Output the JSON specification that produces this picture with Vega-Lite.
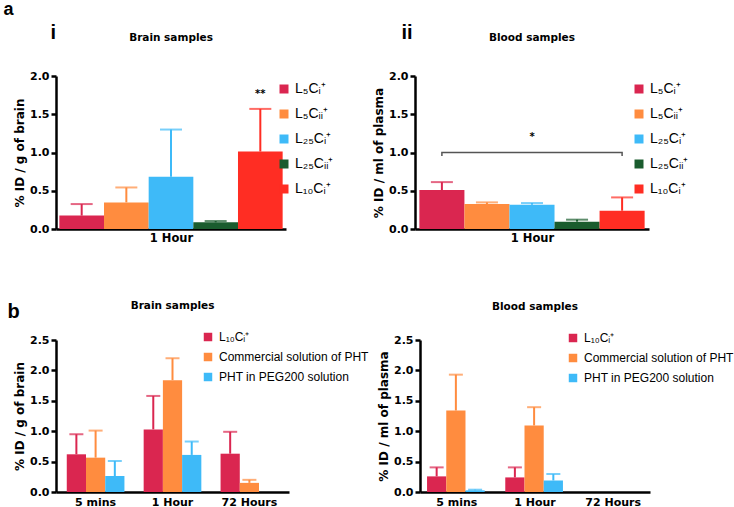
{
  "$schema": "https://vega.github.io/schema/vega-lite/v6.json",
  "background": "white",
  "padding": {"left": 3, "top": 0, "right": 0, "bottom": 0},
  "config": {
    "view": {"stroke": null},
    "font": "Liberation Sans",
    "axis": {"domainColor": "black", "domainWidth": 2.5, "tickColor": "black", "tickWidth": 2.5, "tickSize": 5, "labelFont": "DejaVu Sans", "labelFontWeight": "bold", "labelFontSize": 11, "labelColor": "black", "labelPadding": 2, "titleFont": "DejaVu Sans", "titleFontWeight": "bold", "titleFontSize": 12, "titleColor": "black", "titlePadding": 3, "grid": false},
    "title": {"font": "DejaVu Sans", "fontSize": 10.5, "fontWeight": "bold", "color": "black", "baseline": "alphabetic"},
    "legend": {"orient": "none", "labelFont": "Liberation Sans", "labelColor": "black", "symbolType": "square", "symbolStrokeWidth": 0, "symbolOpacity": 1, "padding": 0}
  },
  "resolve": {"scale": {"color": "independent"}, "legend": {"color": "independent"}},
  "spacing": 56,
  "vconcat": [
    {
      "title": {"text": "a", "anchor": "start", "font": "Liberation Sans", "fontSize": 18, "fontWeight": "bold", "offset": 4, "dx": -10},
      "spacing": 38,
      "resolve": {"scale": {"color": "independent"}, "legend": {"color": "independent"}},
      "hconcat": [
        {
          "title": {"text": "i", "anchor": "start", "font": "Liberation Sans", "fontSize": 20, "fontWeight": "bold", "offset": 0, "dx": 37, "dy": 10},
          "resolve": {"scale": {"color": "independent"}, "legend": {"color": "independent"}},
          "hconcat": [
            {
              "width": 230,
              "height": 153,
              "title": {"text": "Brain samples", "offset": 27},
              "data": {"values": [
                {"series": "L₅Cᵢ⁺", "mean": 0.175, "upper": 0.326},
                {"series": "L₅Cᵢᵢ⁺", "mean": 0.348, "upper": 0.543},
                {"series": "L₂₅Cᵢ⁺", "mean": 0.683, "upper": 1.3},
                {"series": "L₂₅Cᵢᵢ⁺", "mean": 0.087, "upper": 0.104},
                {"series": "L₁₀Cᵢ⁺", "mean": 1.013, "upper": 1.57}
              ]},
              "encoding": {
                "x": {"field": "series", "type": "nominal", "sort": ["L₅Cᵢ⁺", "L₅Cᵢᵢ⁺", "L₂₅Cᵢ⁺", "L₂₅Cᵢᵢ⁺", "L₁₀Cᵢ⁺"], "scale": {"paddingInner": 0, "paddingOuter": 0.075}, "axis": {"labels": false, "ticks": false, "title": "1 Hour", "titleFontSize": 11.5, "titlePadding": 3}}
              },
              "layer": [
                {
                  "mark": {"type": "bar"},
                  "encoding": {
                    "y": {"field": "mean", "type": "quantitative", "stack": null, "scale": {"domain": [0, 2], "nice": false}, "axis": {"values": [0, 0.5, 1, 1.5, 2], "format": ".1f", "labelOverlap": false}, "title": "% ID / g of brain"},
                    "color": {"field": "series", "type": "nominal", "scale": {"domain": ["L₅Cᵢ⁺", "L₅Cᵢᵢ⁺", "L₂₅Cᵢ⁺", "L₂₅Cᵢᵢ⁺", "L₁₀Cᵢ⁺"], "range": ["#DA2650", "#FF8C3F", "#3EBAF8", "#1A5C2E", "#FF2D23"]}, "legend": {"title": null, "legendX": 221, "legendY": 6, "labelFontSize": 14, "rowPadding": 11, "labelOffset": 4, "symbolSize": 81}}
                  }
                },
                {
                  "mark": {"type": "rule", "strokeWidth": 2},
                  "encoding": {
                    "y": {"field": "mean", "type": "quantitative", "scale": {"domain": [0, 2], "nice": false}, "axis": {"values": [0, 0.5, 1, 1.5, 2], "format": ".1f", "labelOverlap": false}, "title": "% ID / g of brain"},
                    "y2": {"field": "upper"},
                    "color": {"field": "series", "type": "nominal", "legend": null}
                  }
                },
                {
                  "mark": {"type": "tick", "thickness": 2, "size": 22},
                  "encoding": {
                    "y": {"field": "upper", "type": "quantitative", "scale": {"domain": [0, 2], "nice": false}, "axis": {"values": [0, 0.5, 1, 1.5, 2], "format": ".1f", "labelOverlap": false}, "title": "% ID / g of brain"},
                    "color": {"field": "series", "type": "nominal", "legend": null}
                  }
                },
                {
                  "data": {"values": [{"series": "L₁₀Cᵢ⁺", "y": 1.77, "label": "**"}]},
                  "mark": {"type": "text", "font": "DejaVu Sans", "fontWeight": "bold", "fontSize": 10, "baseline": "middle", "color": "black"},
                  "encoding": {
                    "y": {"field": "y", "type": "quantitative", "scale": {"domain": [0, 2], "nice": false}, "axis": {"values": [0, 0.5, 1, 1.5, 2], "format": ".1f", "labelOverlap": false}, "title": "% ID / g of brain"},
                    "text": {"field": "label"}
                  }
                }
              ]
            }
          ]
        },
        {
          "title": {"text": "ii", "anchor": "start", "font": "Liberation Sans", "fontSize": 20, "fontWeight": "bold", "offset": 0, "dx": 29, "dy": 10},
          "resolve": {"scale": {"color": "independent"}, "legend": {"color": "independent"}},
          "hconcat": [
            {
              "width": 234,
              "height": 153,
              "title": {"text": "Blood samples", "offset": 27},
              "data": {"values": [
                {"series": "L₅Cᵢ⁺", "mean": 0.509, "upper": 0.613},
                {"series": "L₅Cᵢᵢ⁺", "mean": 0.326, "upper": 0.348},
                {"series": "L₂₅Cᵢ⁺", "mean": 0.317, "upper": 0.339},
                {"series": "L₂₅Cᵢᵢ⁺", "mean": 0.096, "upper": 0.122},
                {"series": "L₁₀Cᵢ⁺", "mean": 0.239, "upper": 0.413}
              ]},
              "encoding": {
                "x": {"field": "series", "type": "nominal", "sort": ["L₅Cᵢ⁺", "L₅Cᵢᵢ⁺", "L₂₅Cᵢ⁺", "L₂₅Cᵢᵢ⁺", "L₁₀Cᵢ⁺"], "scale": {"paddingInner": 0, "paddingOuter": 0.097}, "axis": {"labels": false, "ticks": false, "title": "1 Hour", "titleFontSize": 11.5, "titlePadding": 3}}
              },
              "layer": [
                {
                  "mark": {"type": "bar"},
                  "encoding": {
                    "y": {"field": "mean", "type": "quantitative", "stack": null, "scale": {"domain": [0, 2], "nice": false}, "axis": {"values": [0, 0.5, 1, 1.5, 2], "format": ".1f", "labelOverlap": false}, "title": "% ID / ml of plasma"},
                    "color": {"field": "series", "type": "nominal", "scale": {"domain": ["L₅Cᵢ⁺", "L₅Cᵢᵢ⁺", "L₂₅Cᵢ⁺", "L₂₅Cᵢᵢ⁺", "L₁₀Cᵢ⁺"], "range": ["#DA2650", "#FF8C3F", "#3EBAF8", "#1A5C2E", "#FF2D23"]}, "legend": {"title": null, "legendX": 217, "legendY": 6, "labelFontSize": 14, "rowPadding": 11, "labelOffset": 4, "symbolSize": 81}}
                  }
                },
                {
                  "mark": {"type": "rule", "strokeWidth": 2},
                  "encoding": {
                    "y": {"field": "mean", "type": "quantitative", "scale": {"domain": [0, 2], "nice": false}, "axis": {"values": [0, 0.5, 1, 1.5, 2], "format": ".1f", "labelOverlap": false}, "title": "% ID / ml of plasma"},
                    "y2": {"field": "upper"},
                    "color": {"field": "series", "type": "nominal", "legend": null}
                  }
                },
                {
                  "mark": {"type": "tick", "thickness": 2, "size": 22},
                  "encoding": {
                    "y": {"field": "upper", "type": "quantitative", "scale": {"domain": [0, 2], "nice": false}, "axis": {"values": [0, 0.5, 1, 1.5, 2], "format": ".1f", "labelOverlap": false}, "title": "% ID / ml of plasma"},
                    "color": {"field": "series", "type": "nominal", "legend": null}
                  }
                },
                {
                  "data": {"values": [
                    {"series": "L₅Cᵢ⁺", "y": 0.955, "o": 1},
                    {"series": "L₅Cᵢ⁺", "y": 1.0, "o": 2},
                    {"series": "L₁₀Cᵢ⁺", "y": 1.0, "o": 3},
                    {"series": "L₁₀Cᵢ⁺", "y": 0.955, "o": 4}
                  ]},
                  "mark": {"type": "line", "color": "#555555", "strokeWidth": 1.5},
                  "encoding": {
                    "y": {"field": "y", "type": "quantitative", "scale": {"domain": [0, 2], "nice": false}, "axis": {"values": [0, 0.5, 1, 1.5, 2], "format": ".1f", "labelOverlap": false}, "title": "% ID / ml of plasma"},
                    "order": {"field": "o"}
                  }
                },
                {
                  "data": {"values": [{"series": "L₂₅Cᵢ⁺", "y": 1.2, "label": "*"}]},
                  "mark": {"type": "text", "font": "DejaVu Sans", "fontWeight": "bold", "fontSize": 10, "baseline": "middle", "color": "black"},
                  "encoding": {
                    "y": {"field": "y", "type": "quantitative", "scale": {"domain": [0, 2], "nice": false}, "axis": {"values": [0, 0.5, 1, 1.5, 2], "format": ".1f", "labelOverlap": false}, "title": "% ID / ml of plasma"},
                    "text": {"field": "label"}
                  }
                }
              ]
            }
          ]
        }
      ]
    },
    {
      "title": {"text": "b", "anchor": "start", "font": "Liberation Sans", "fontSize": 20, "fontWeight": "bold", "offset": 0, "dx": -6, "dy": 21},
      "spacing": 8,
      "resolve": {"scale": {"color": "independent"}, "legend": {"color": "independent"}},
      "hconcat": [
        {
          "width": 233,
          "height": 152,
          "title": {"text": "Brain samples", "offset": 20},
          "data": {"values": [
            {"time": "5 mins", "series": "L₁₀Cᵢ⁺", "mean": 0.62, "upper": 0.95},
            {"time": "5 mins", "series": "Commercial solution of PHT", "mean": 0.565, "upper": 1.01},
            {"time": "5 mins", "series": "PHT in PEG200 solution", "mean": 0.263, "upper": 0.51},
            {"time": "1 Hour", "series": "L₁₀Cᵢ⁺", "mean": 1.03, "upper": 1.58},
            {"time": "1 Hour", "series": "Commercial solution of PHT", "mean": 1.84, "upper": 2.2},
            {"time": "1 Hour", "series": "PHT in PEG200 solution", "mean": 0.61, "upper": 0.83},
            {"time": "72 Hours", "series": "L₁₀Cᵢ⁺", "mean": 0.63, "upper": 0.99},
            {"time": "72 Hours", "series": "Commercial solution of PHT", "mean": 0.15, "upper": 0.2}
          ]},
          "encoding": {
            "x": {"field": "time", "type": "nominal", "scale": {"domain": ["5 mins", "1 Hour", "72 Hours"], "paddingInner": 0.25, "paddingOuter": 0.14}, "axis": {"title": null, "ticks": false, "labelAngle": 0, "labelPadding": 4}},
            "xOffset": {"field": "series", "type": "nominal", "scale": {"domain": ["L₁₀Cᵢ⁺", "Commercial solution of PHT", "PHT in PEG200 solution"], "paddingInner": 0, "paddingOuter": 0}},
            "color": {"field": "series", "type": "nominal", "scale": {"domain": ["L₁₀Cᵢ⁺", "Commercial solution of PHT", "PHT in PEG200 solution"], "range": ["#DA2650", "#FF8C3F", "#3EBAF8"]}, "legend": {"title": null, "legendX": 146, "legendY": -9, "labelFontSize": 12, "rowPadding": 8, "labelOffset": 5, "symbolSize": 72}}
          },
          "layer": [
            {
              "mark": {"type": "bar"},
              "encoding": {"y": {"field": "mean", "type": "quantitative", "stack": null, "scale": {"domain": [0, 2.5], "nice": false}, "axis": {"values": [0, 0.5, 1, 1.5, 2, 2.5], "format": ".1f", "labelOverlap": false}, "title": "% ID / g of brain"}}
            },
            {
              "mark": {"type": "rule", "strokeWidth": 2},
              "encoding": {"y": {"field": "mean", "type": "quantitative", "scale": {"domain": [0, 2.5], "nice": false}, "axis": {"values": [0, 0.5, 1, 1.5, 2, 2.5], "format": ".1f", "labelOverlap": false}, "title": "% ID / g of brain"}, "y2": {"field": "upper"}}
            },
            {
              "mark": {"type": "tick", "thickness": 2, "size": 14},
              "encoding": {"y": {"field": "upper", "type": "quantitative", "scale": {"domain": [0, 2.5], "nice": false}, "axis": {"values": [0, 0.5, 1, 1.5, 2, 2.5], "format": ".1f", "labelOverlap": false}, "title": "% ID / g of brain"}}
            }
          ]
        },
        {
          "width": 230,
          "height": 152,
          "title": {"text": "Blood samples", "offset": 20},
          "data": {"values": [
            {"time": "5 mins", "series": "L₁₀Cᵢ⁺", "mean": 0.257, "upper": 0.405},
            {"time": "5 mins", "series": "Commercial solution of PHT", "mean": 1.34, "upper": 1.93},
            {"time": "5 mins", "series": "PHT in PEG200 solution", "mean": 0.027, "upper": 0.038},
            {"time": "1 Hour", "series": "L₁₀Cᵢ⁺", "mean": 0.24, "upper": 0.405},
            {"time": "1 Hour", "series": "Commercial solution of PHT", "mean": 1.094, "upper": 1.395},
            {"time": "1 Hour", "series": "PHT in PEG200 solution", "mean": 0.19, "upper": 0.295}
          ]},
          "encoding": {
            "x": {"field": "time", "type": "nominal", "scale": {"domain": ["5 mins", "1 Hour", "72 Hours"], "paddingInner": 0.24, "paddingOuter": 0.09}, "axis": {"title": null, "ticks": false, "labelAngle": 0, "labelPadding": 4}},
            "xOffset": {"field": "series", "type": "nominal", "scale": {"domain": ["L₁₀Cᵢ⁺", "Commercial solution of PHT", "PHT in PEG200 solution"], "paddingInner": 0, "paddingOuter": 0}},
            "color": {"field": "series", "type": "nominal", "scale": {"domain": ["L₁₀Cᵢ⁺", "Commercial solution of PHT", "PHT in PEG200 solution"], "range": ["#DA2650", "#FF8C3F", "#3EBAF8"]}, "legend": {"title": null, "legendX": 147, "legendY": -8, "labelFontSize": 12, "rowPadding": 8, "labelOffset": 5, "symbolSize": 72}}
          },
          "layer": [
            {
              "mark": {"type": "bar"},
              "encoding": {"y": {"field": "mean", "type": "quantitative", "stack": null, "scale": {"domain": [0, 2.5], "nice": false}, "axis": {"values": [0, 0.5, 1, 1.5, 2, 2.5], "format": ".1f", "labelOverlap": false}, "title": "% ID / ml of plasma"}}
            },
            {
              "mark": {"type": "rule", "strokeWidth": 2},
              "encoding": {"y": {"field": "mean", "type": "quantitative", "scale": {"domain": [0, 2.5], "nice": false}, "axis": {"values": [0, 0.5, 1, 1.5, 2, 2.5], "format": ".1f", "labelOverlap": false}, "title": "% ID / ml of plasma"}, "y2": {"field": "upper"}}
            },
            {
              "mark": {"type": "tick", "thickness": 2, "size": 14},
              "encoding": {"y": {"field": "upper", "type": "quantitative", "scale": {"domain": [0, 2.5], "nice": false}, "axis": {"values": [0, 0.5, 1, 1.5, 2, 2.5], "format": ".1f", "labelOverlap": false}, "title": "% ID / ml of plasma"}}
            }
          ]
        }
      ]
    }
  ]
}
